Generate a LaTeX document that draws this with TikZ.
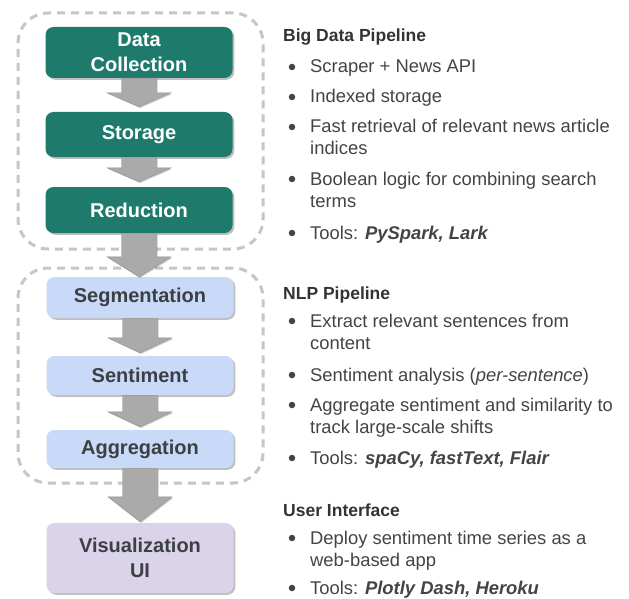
\documentclass[tikz,border=0pt]{standalone}
\usepackage{fontspec}
\setmainfont{Liberation Sans}
\usetikzlibrary{shadows,calc}
\definecolor{teal1}{HTML}{1E7B6C}
\definecolor{lblue}{HTML}{C9DAF8}
\definecolor{lpurple}{HTML}{DAD3EA}
\definecolor{boxtxt}{HTML}{3C3F44}
\definecolor{bodytxt}{HTML}{444444}
\definecolor{titletxt}{HTML}{333333}
\definecolor{dashgray}{HTML}{C6C6C6}
\definecolor{arrowgray}{HTML}{AAAAAA}
\tikzset{
  stagebox/.style={rounded corners=8pt, minimum width=187pt, align=center,
    font=\fontsize{20}{25}\selectfont\bfseries, inner sep=0pt,
    drop shadow={shadow xshift=1.8pt, shadow yshift=-1.8pt, opacity=0.25, fill=black}},
  bigdata/.style={stagebox, fill=teal1, text=white},
  nlp/.style={stagebox, fill=lblue, text=boxtxt},
  ui/.style={stagebox, fill=lpurple, text=boxtxt},
  group/.style={draw=dashgray, line width=3pt, dash pattern=on 8pt off 6pt,
    rounded corners=30pt, inner sep=0pt},
  titletext/.style={anchor=base west, inner sep=0pt, text=titletxt,
    font=\fontsize{17.5}{21}\selectfont\bfseries},
  bodytext/.style={anchor=base west, inner sep=0pt, text=bodytxt,
    font=\fontsize{18.4}{22}\selectfont},
  bulletdot/.style={circle, fill=bodytxt, minimum size=6.5pt, inner sep=0pt},
  garrowstyle/.style={fill=arrowgray, draw=arrowgray!85!black, line width=0.4pt,
    drop shadow={shadow xshift=1.2pt, shadow yshift=-1.2pt, opacity=0.2, fill=black}}
}
% block arrow from node #1 (south) to node #2 (north): head length #3, gap above target #4
\newcommand\garrow[4]{%
  \path[garrowstyle] let \p1=(#1.south), \p2=(#2.north) in
    (\x1-17.5pt,\y1) -- (\x1+17.5pt,\y1) -- (\x1+17.5pt,\y2+#4+#3) --
    (\x1+32pt,\y2+#4+#3) -- (\x1,\y2+#4) -- (\x1-32pt,\y2+#4+#3) --
    (\x1-17.5pt,\y2+#4+#3) -- cycle;}
\begin{document}
\begin{tikzpicture}[x=1pt,y=-1pt]
\useasboundingbox (0,0) rectangle (629,599);
\fill[white] (0,0) rectangle (629,599);

% dashed groups
\node[group, minimum width=245pt, minimum height=236pt] (g1) at (140.5,131) {};
\node[group, minimum width=245pt, minimum height=215pt] (g2) at (140.5,375.5) {};

% stages
\node[bigdata, minimum height=51pt] (dc) at (139,52.5) {Data\\Collection};
\node[bigdata, minimum height=45pt] (st) at (139,134.5) {Storage};
\node[bigdata, minimum height=46pt] (re) at (139,210) {Reduction};
\node[nlp, minimum height=41pt] (se) at (140,297.5) {Segmentation};
\node[nlp, minimum height=39pt] (sn) at (140,375.5) {Sentiment};
\node[nlp, minimum height=38pt] (ag) at (140,449) {Aggregation};
\node[ui, minimum height=70pt] (vi) at (140,558) {Visualization\\UI};

% arrows
\garrow{dc}{st}{14pt}{5pt}
\garrow{st}{re}{14pt}{5pt}
\garrow{re}{se}{20pt}{0pt}
\garrow{se}{sn}{15pt}{3pt}
\garrow{sn}{ag}{15pt}{3pt}
\garrow{ag}{vi}{25pt}{1pt}

% right text: Big Data Pipeline
\node[titletext] (t1) at (283,42) {Big Data Pipeline};
\node[bulletdot] (b11) at (292,67) {};
\node[bodytext] (l11) at (310,73) {Scraper + News API};
\node[bulletdot] (b12) at (292,97) {};
\node[bodytext] (l12) at (310,103) {Indexed storage};
\node[bulletdot] (b13) at (292,127) {};
\node[bodytext] (l13) at (310,133) {Fast retrieval of relevant news article};
\node[bodytext] (l13b) at (310,154) {indices};
\node[bulletdot] (b14) at (292,179) {};
\node[bodytext] (l14) at (310,185) {Boolean logic for combining search};
\node[bodytext] (l14b) at (310,207) {terms};
\node[bulletdot] (b15) at (292,233) {};
\node[bodytext] (l15) at (310,239) {Tools: \textbf{\textit{PySpark, Lark}}};

% NLP Pipeline
\node[titletext] (t2) at (283,299) {NLP Pipeline};
\node[bulletdot] (b21) at (292,321) {};
\node[bodytext] (l21) at (310,327) {Extract relevant sentences from};
\node[bodytext] (l21b) at (310,349) {content};
\node[bulletdot] (b22) at (292,375) {};
\node[bodytext] (l22) at (310,381) {Sentiment analysis (\textit{per-sentence})};
\node[bulletdot] (b23) at (292,405) {};
\node[bodytext] (l23) at (310,411) {Aggregate sentiment and similarity to};
\node[bodytext] (l23b) at (310,433) {track large-scale shifts};
\node[bulletdot] (b24) at (292,458) {};
\node[bodytext] (l24) at (310,464) {Tools: \textbf{\textit{spaCy, fastText, Flair}}};

% User Interface
\node[titletext] (t3) at (283,516) {User Interface};
\node[bulletdot] (b31) at (292,538) {};
\node[bodytext] (l31) at (310,544) {Deploy sentiment time series as a};
\node[bodytext] (l31b) at (310,566) {web-based app};
\node[bulletdot] (b32) at (292,588) {};
\node[bodytext] (l32) at (310,594) {Tools: \textbf{\textit{Plotly Dash, Heroku}}};
\end{tikzpicture}
\end{document}
